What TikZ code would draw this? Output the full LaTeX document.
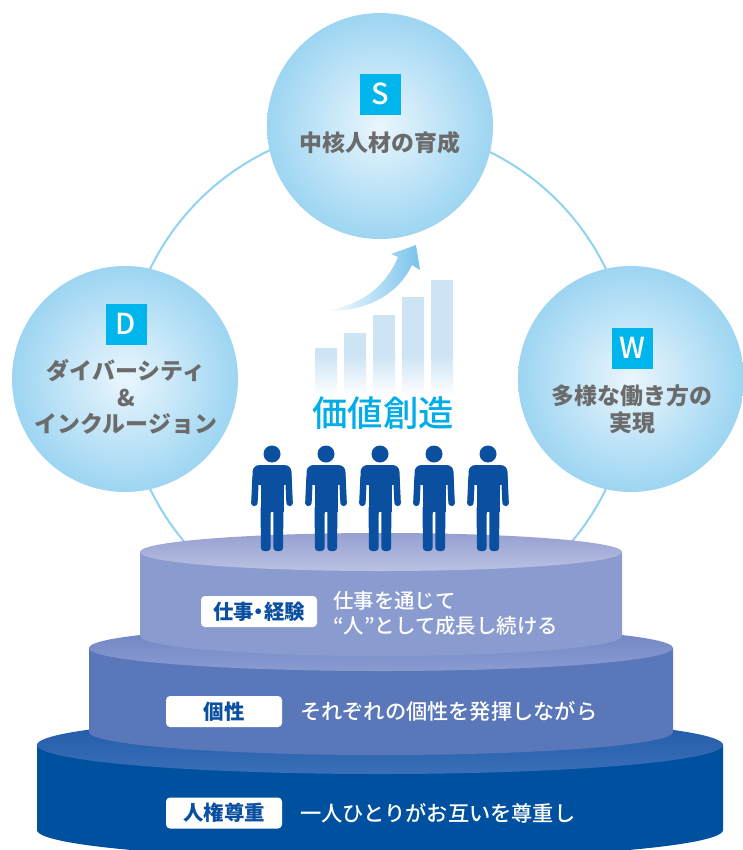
\documentclass[tikz,border=0pt]{standalone}
\usepackage{fontspec}
\setmainfont{Noto Sans CJK JP}
\newfontfamily\jpmedium{Noto Sans CJK JP Medium}
\newfontfamily\jppalt{Noto Sans CJK JP}[RawFeature=+palt]
\usetikzlibrary{arrows.meta, positioning}

\definecolor{ringblue}{HTML}{8FD2F2}
\definecolor{bubblecore}{HTML}{EAF6FD}
\definecolor{bubbleedge}{HTML}{9DD5F2}
\definecolor{tagcyan}{HTML}{00B5EC}
\definecolor{labelgray}{HTML}{6B6B6B}
\definecolor{valuecyan}{HTML}{00ADE9}
\definecolor{barblue}{HTML}{CDE4F5}
\definecolor{arrowblue}{HTML}{78C3EB}
\definecolor{personblue}{HTML}{0A4FA0}
\definecolor{baseside}{HTML}{0050A0}
\definecolor{basetopA}{HTML}{1E59A7}
\definecolor{basetopB}{HTML}{3B6FB8}
\definecolor{midside}{HTML}{5A77BA}
\definecolor{midtopA}{HTML}{6F83C3}
\definecolor{midtopB}{HTML}{8A9BD0}
\definecolor{upside}{HTML}{8A9BCF}
\definecolor{uptopA}{HTML}{96A0D0}
\definecolor{uptopB}{HTML}{BAC1E3}

\begin{document}
\begin{tikzpicture}[x=1bp, y=-1bp,
  bubble/.style={circle, minimum size=226bp, inner sep=0pt,
                 inner color=bubblecore, outer color=bubbleedge},
  tag/.style={fill=tagcyan, text=white, minimum size=41bp, inner sep=0pt,
              font=\fontsize{29}{29}\selectfont\jpmedium},
  bubbletext/.style={text=labelgray, align=center,
                     font=\fontsize{23}{27}\selectfont\bfseries},
  levelbox/.style={fill=white, rounded corners=4bp, minimum width=116bp,
                   minimum height=31bp, inner sep=0pt, text=personblue,
                   font=\fontsize{20.5}{24}\selectfont\bfseries},
  leveltext/.style={text=white, anchor=west, align=left, inner sep=0pt,
                    font=\fontsize{21.3}{25}\selectfont\jpmedium}]
  \useasboundingbox (0,0) rectangle (743,850);

  % ring behind the three bubbles
  \coordinate (hub) at (378,379);
  \draw[ringblue, line width=2bp] (hub) circle [radius=253bp];

  % S bubble
  \node[bubble] (sbub) at (380,126) {};
  \node[tag] (stag) at (380,94) {S};
  \node[bubbletext] (stext) at (380,143) {中核人材の育成};

  % D bubble
  \node[bubble] (dbub) at (125,379) {};
  \node[tag] (dtag) at (126,324) {D};
  \node[bubbletext] (dtext) at (126,397) {ダイバーシティ\\\&\\インクルージョン};

  % W bubble
  \node[bubble] (wbub) at (631,379) {};
  \node[tag] (wtag) at (632,348) {W};
  \node[bubbletext] (wtext) at (632,409) {多様な働き方の\\実現};

  % growth bars, solid on top and fading out below
  \foreach \x/\top in {315/348, 344/333, 373/315, 402/297, 431/280} {
    \fill[barblue] (\x,\top) rectangle ({\x+22},356);
    \shade[top color=barblue, bottom color=white] (\x,355) rectangle ({\x+22},396);
  }

  % rising arrow
  \shade[left color=white, right color=arrowblue]
    (325,311) .. controls (362,305) and (386,286) .. (398,257)
    -- (391,254) -- (416,245) -- (420,270) -- (412,265)
    .. controls (398,294) and (368,312) .. (325,311) -- cycle;

  \node[text=valuecyan, font=\fontsize{35.5}{36}\selectfont\jpmedium] (value) at (383,413) {価値創造};

  % base tier
  \fill[baseside] (37,745) -- (37,830)
    arc [start angle=180, end angle=360, x radius=343bp, y radius=29bp]
    -- (723,745) -- cycle;
  \shade[top color=basetopA, bottom color=basetopB]
    (380,745) ellipse [x radius=343bp, y radius=29bp];

  % middle tier
  \fill[midside] (89,648) -- (89,732)
    arc [start angle=180, end angle=360, x radius=292bp, y radius=23bp]
    -- (673,648) -- cycle;
  \shade[top color=midtopA, bottom color=midtopB]
    (381,648) ellipse [x radius=292bp, y radius=23bp];

  % upper tier
  \fill[upside] (140,552) -- (140,636)
    arc [start angle=180, end angle=360, x radius=241bp, y radius=20bp]
    -- (622,552) -- cycle;
  \shade[top color=uptopA, bottom color=uptopB]
    (381,552) ellipse [x radius=241bp, y radius=19bp];

  % tier labels
  \node[levelbox, font=\fontsize{20.5}{24}\selectfont\jppalt\bfseries] (work) at (259,611.5) {仕事・経験};
  \node[leveltext, font=\fontsize{20.5}{25}\selectfont\jpmedium] (worktext) at (333,613)
    {仕事を通じて\\“人”として成長し続ける};
  \node[levelbox] (self) at (224,711.5) {個性};
  \node[leveltext] (selftext) at (300,711.5) {それぞれの個性を発揮しながら};
  \node[levelbox] (rights) at (224,813) {人権尊重};
  \node[leveltext] (rightstext) at (300,813) {一人ひとりがお互いを尊重し};

  % five people standing on the upper tier
  \foreach \cx in {272,326,380,434,488} {
    \begin{scope}[shift={(\cx,0)}, personblue]
      \fill (0,454) circle [radius=8.5bp];
      \fill[rounded corners=7bp] (-19.5,485) -- (-19.5,465) -- (19.5,465) -- (19.5,485) -- cycle;
      \fill[rounded corners=3bp] (-19.5,474) -- (-21,506) -- (-14.5,506) -- (-13,474) -- cycle;
      \fill[rounded corners=3bp] (19.5,474) -- (21,506) -- (14.5,506) -- (13,474) -- cycle;
      \fill (-11.5,470) rectangle (11.5,512);
      \fill[rounded corners=3bp] (-11.5,505) -- (-11,551) -- (-1.5,551) -- (-1.2,505) -- cycle;
      \fill[rounded corners=3bp] (11.5,505) -- (11,551) -- (1.5,551) -- (1.2,505) -- cycle;
    \end{scope}
  }
\end{tikzpicture}
\end{document}
